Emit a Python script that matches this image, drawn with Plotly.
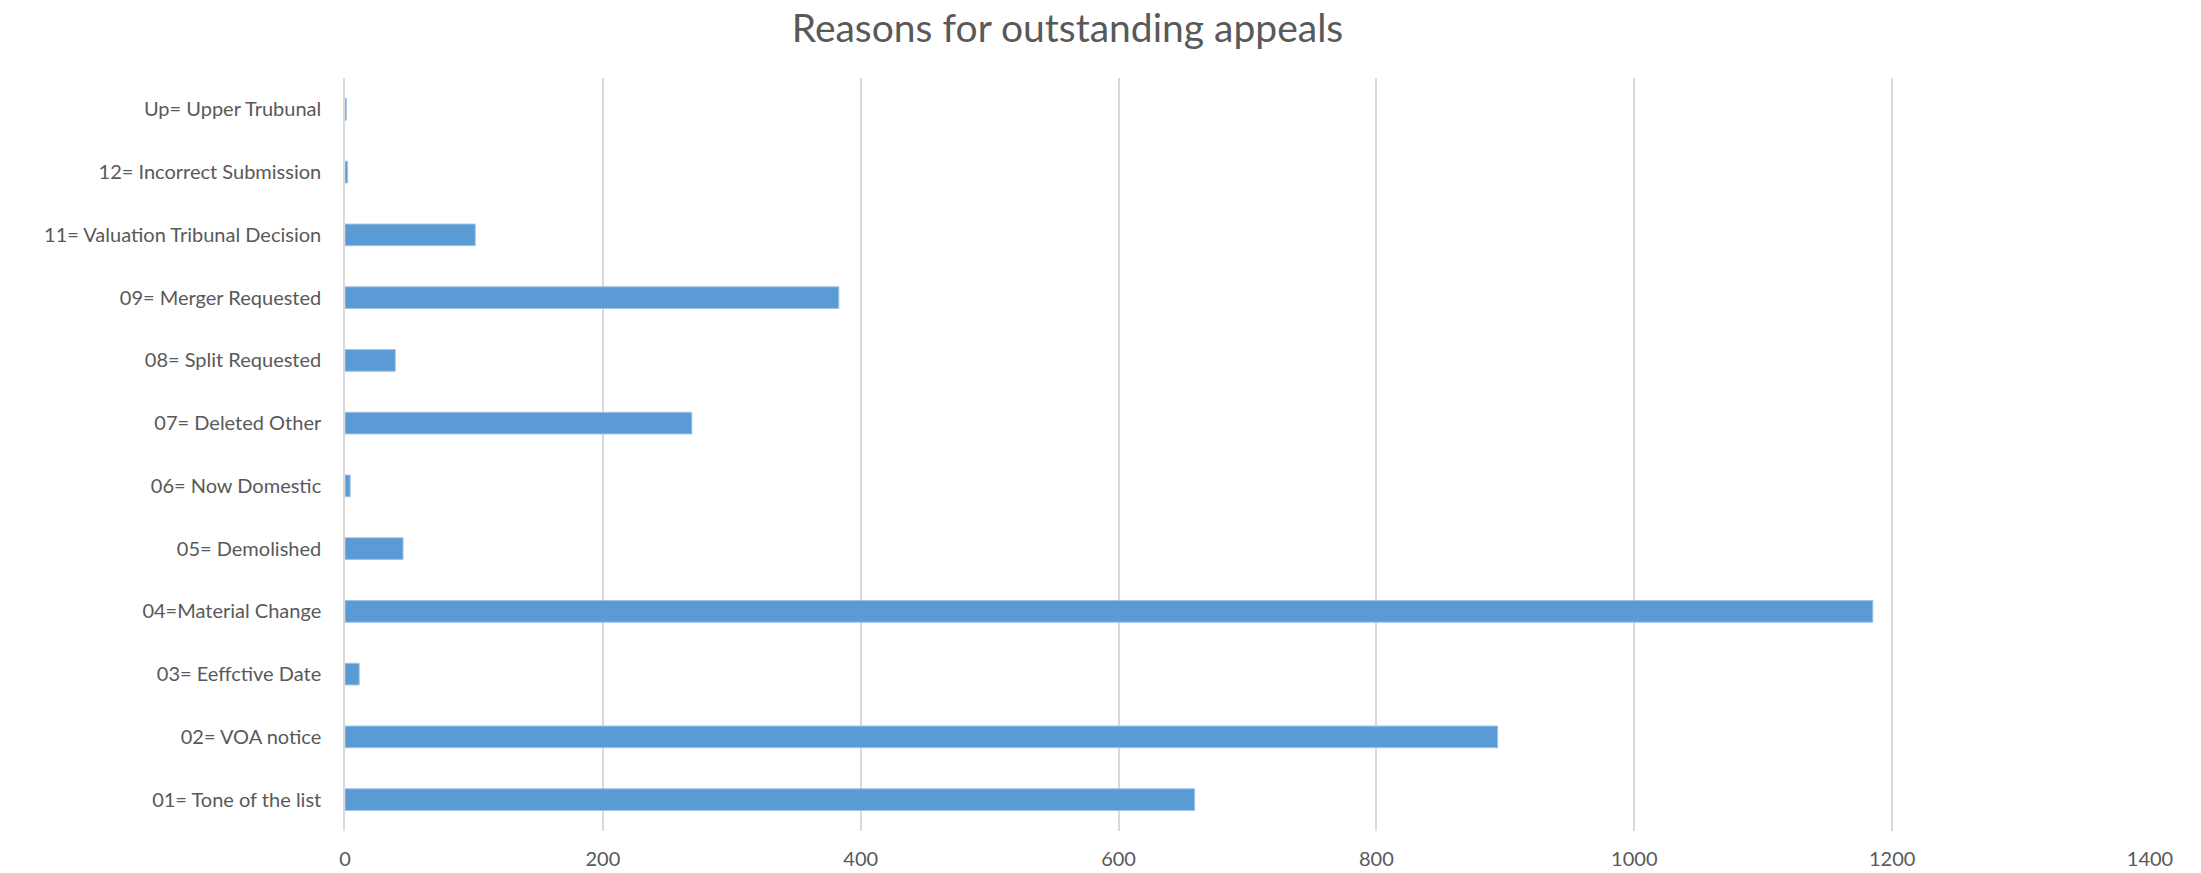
import plotly.graph_objects as go

categories = [
    "01= Tone of the list",
    "02= VOA notice",
    "03= Eeffctive Date",
    "04=Material Change",
    "05= Demolished",
    "06= Now Domestic",
    "07= Deleted Other",
    "08= Split Requested",
    "09= Merger Requested",
    "11= Valuation Tribunal Decision",
    "12= Incorrect Submission",
    "Up= Upper Trubunal",
]
values = [659, 894, 11, 1185, 45, 4, 269, 39, 383, 101, 2, 1]
x_ticks = [0, 200, 400, 600, 800, 1000, 1200, 1400]

FONT = "Lato"
GREY = "#595959"

fig = go.Figure(
    go.Bar(
        x=values,
        y=categories,
        orientation="h",
        marker=dict(color="#5B9BD5", line=dict(color="#9DC3E6", width=1)),
        hoverinfo="x+y",
    )
)

fig.update_layout(
    width=2201,
    height=873,
    paper_bgcolor="white",
    plot_bgcolor="white",
    margin=dict(l=345, r=51, t=78, b=42),
    bargap=0.655,
    showlegend=False,
    title=dict(
        text="Reasons for outstanding appeals",
        x=0.485,
        xanchor="center",
        y=0.968,
        yanchor="middle",
        font=dict(family=FONT, size=39, color=GREY),
    ),
    font=dict(family=FONT, color=GREY),
)

fig.update_xaxes(
    range=[0, 1400],
    tickvals=x_ticks,
    ticktext=[str(v) for v in x_ticks],
    showgrid=True,
    gridcolor="#D9D9D9",
    gridwidth=1.5,
    zeroline=False,
    showline=False,
    tickfont=dict(family=FONT, size=20, color=GREY),
    ticklabelstandoff=14,
    automargin=False,
    fixedrange=True,
)

fig.update_yaxes(
    categoryorder="array",
    categoryarray=categories,
    showgrid=False,
    showline=True,
    linecolor="#D9D9D9",
    linewidth=1.5,
    tickfont=dict(family=FONT, size=20, color=GREY),
    ticklabelstandoff=18,
    automargin=False,
    fixedrange=True,
)

fig.write_html("out.html")
